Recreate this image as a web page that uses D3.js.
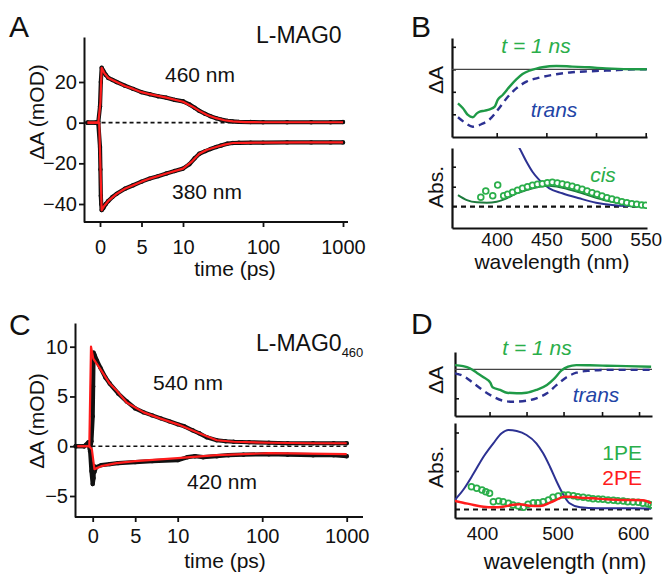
<!DOCTYPE html>
<html>
<head>
<meta charset="utf-8">
<script src="https://cdn.jsdelivr.net/npm/d3@7"></script>
<style>
  body { margin: 0; background: #fff; }
  svg { display: block; font-family: "Liberation Sans", Arial, sans-serif; }
</style>
</head>
<body>
<svg id="fig" width="664" height="574"></svg>
<script>
// ---- panel A: L-MAG0 kinetics (time in ps, dA in mOD)
var aT460 = [-1.5, -0.5, -0.2, 0, 0.1, 0.2, 0.4, 0.7, 1, 1.5, 2, 3, 4, 5, 6, 7, 8, 9, 10, 12, 14, 16, 19, 22, 26, 30, 36, 42, 50, 70, 100, 200, 400, 700, 1000];
var aData460 = [0, 0, 0.5, 8, 20, 27, 25.5, 23.5, 22, 21, 20, 18.2, 16.6, 15, 14, 13, 12.3, 11.2, 10.5, 9, 7.3, 5.8, 4.3, 3.2, 2.2, 1.5, 0.9, 0.6, 0.4, 0.3, 0.2, 0.2, 0.2, 0.2, 0.3];
var aFitT460 = [-1.5, -0.2, 0.05, 0.2, 0.5, 1, 2, 3, 4, 5, 6, 8, 10, 13, 16, 20, 26, 33, 42, 60, 100, 200, 500, 1000];
var aFit460 = [0, 0, 10, 27, 24.5, 22, 20, 18, 16.6, 15, 14, 12.3, 10.3, 8, 5.8, 3.8, 2.2, 1.2, 0.6, 0.3, 0.2, 0.2, 0.2, 0.2];

var aT380 = [-1.5, -0.5, -0.2, 0, 0.05, 0.1, 0.15, 0.2, 0.4, 0.7, 1, 1.5, 2, 3, 4, 5, 6, 7, 8, 9, 10, 12, 14, 16, 19, 22, 26, 30, 36, 42, 50, 70, 100, 200, 400, 700, 1000];
var aData380 = [0, 0, -0.5, -12, -23, -36, -40, -43, -42, -40, -38.5, -36.5, -35, -32.5, -30.8, -29, -27.5, -26.3, -25, -23.8, -22.6, -20.5, -17.5, -15.3, -14, -13, -12, -11.2, -10.3, -10, -9.9, -9.8, -9.8, -9.7, -9.7, -9.7, -9.7];
var aFitT380 = [-1.5, -0.1, 0.2, 0.5, 1, 2, 3, 4, 5, 6, 8, 10, 13, 16, 20, 26, 33, 42, 60, 100, 300, 1000];
var aFit380 = [0, 0, -43, -41, -38.5, -35, -32.5, -30.8, -29, -27.5, -25, -22.6, -19, -15.3, -13.3, -12, -10.8, -10, -9.9, -9.8, -9.7, -9.7];

// ---- panel C: L-MAG0(460) kinetics
var cT540 = [-2, -1, -0.5, -0.3, -0.15, 0, 0.05, 0.1, 0.2, 0.5, 0.9, 1.5, 2, 3, 4, 5, 6, 7, 8, 9, 10, 12, 15, 18, 22, 29, 37, 46, 70, 120, 200, 400, 700, 1000];
var cData540 = [0, 0, 0.4, -0.3, 0.5, 3, 6, 9.4, 9.2, 8.6, 7.9, 6.9, 6.3, 5.3, 4.5, 3.8, 3.4, 3.1, 2.8, 2.5, 2.2, 2.0, 1.6, 1.3, 0.9, 0.6, 0.5, 0.45, 0.4, 0.35, 0.3, 0.3, 0.3, 0.3];
var cFitT540 = [-1.8, -0.4, -0.2, 0.07, 0.86, 2, 2.8, 4, 6, 7.9, 10, 13, 18, 29, 46, 120, 400, 1000];
var cFit540 = [0, 0, 10, 8.8, 7.8, 6.3, 5.6, 4.4, 3.4, 2.8, 2.2, 1.8, 1.3, 0.6, 0.45, 0.35, 0.3, 0.3];

var cT420 = [-2, -1, -0.5, -0.3, -0.15, 0, 0.1, 0.15, 0.2, 0.4, 1, 2, 3, 5, 7, 10, 13, 16, 20, 29, 40, 60, 120, 200, 400, 700, 1000];
var cData420 = [0, 0, 0.3, -0.5, -2.5, -3.8, -3.2, -2.0, -2.6, -2.1, -1.9, -1.8, -1.7, -1.6, -1.5, -1.4, -1.1, -1.0, -1.1, -1.0, -0.9, -0.85, -0.8, -0.85, -0.9, -0.9, -1.0];
var cFitT420 = [-1.8, -0.4, -0.1, 0.2, 1, 2.8, 5, 10, 29, 120, 1000];
var cFit420 = [0, 0, -0.3, -2.3, -2.0, -1.7, -1.5, -1.2, -0.9, -0.7, -0.8];

var timeTicksLin = [0, 5, 10];
var timeTicksLog = [100, 1000];

// ---- panel B: spectra (wavelength nm)
var bWl1ns = [361, 366, 371, 376, 380, 383, 388, 393, 398, 401, 406, 413, 420, 426, 433, 440, 446, 460, 476, 493, 510, 546, 551];
var bDA1ns = [-1.51, -1.73, -2.03, -2.13, -1.96, -1.88, -1.84, -1.78, -1.66, -1.36, -1.14, -0.77, -0.44, -0.21, -0.06, 0.03, 0.09, 0.15, 0.12, 0.09, 0.04, 0, 0];
var bWlTrans = [361, 368, 376, 385, 393, 401, 410, 420, 430, 443, 460, 476, 493, 510, 546, 551];
var bDATrans = [-2.13, -2.37, -2.55, -2.43, -2.22, -1.81, -1.29, -0.84, -0.55, -0.37, -0.22, -0.13, -0.09, -0.06, 0, 0];

var bWlTransAbs = [410, 416, 423, 430, 436, 443, 453, 466, 483, 500, 516, 533, 551];
var bAbsTrans = [4.2, 3.5, 2.92, 2.25, 1.75, 1.33, 0.92, 0.67, 0.42, 0.2, 0.08, 0.03, 0.02];
var bWlCis = [361, 370, 380, 390, 400, 410, 420, 430, 443, 453, 466, 483, 500, 516, 533, 546, 551];
var bAbsCis = [0.58, 0.33, 0.22, 0.2, 0.25, 0.42, 0.67, 0.83, 1.0, 1.05, 0.95, 0.72, 0.45, 0.25, 0.13, 0.05, 0.03];
var bWlCisPts = [384, 389, 396, 401, 407, 411, 416, 421, 426, 431, 436, 441, 446, 451, 456, 461, 466, 471, 476, 481, 486, 491, 496, 501, 506, 511, 516, 521, 526, 531, 536, 541, 546, 550];
var bAbsCisPts = [0.47, 0.78, 0.55, 1.08, 0.55, 0.62, 0.72, 0.82, 0.92, 1.0, 1.07, 1.12, 1.15, 1.2, 1.22, 1.18, 1.13, 1.08, 1.02, 0.95, 0.87, 0.78, 0.7, 0.62, 0.53, 0.45, 0.38, 0.32, 0.25, 0.2, 0.15, 0.12, 0.08, 0.07];
var bWlTicks = [400, 450, 500, 550];

// ---- panel D
var dWl1ns = [364, 375, 384, 393, 402, 411, 414, 424, 433, 446, 459, 472, 486, 496, 505, 514, 525, 543, 565, 591, 624];
var dDA1ns = [0.21, 0.16, 0.05, -0.17, -0.4, -0.67, -0.9, -1.03, -1.17, -1.2, -1.17, -1.03, -0.78, -0.45, -0.07, 0.13, 0.21, 0.2, 0.18, 0.16, 0.13];
var dWlTrans = [364, 375, 389, 402, 415, 428, 441, 459, 472, 486, 499, 512, 525, 543, 565, 591, 624];
var dDATrans = [-0.2, -0.33, -0.7, -1.07, -1.37, -1.57, -1.62, -1.57, -1.45, -1.2, -0.78, -0.4, -0.17, -0.07, -0.03, -0.03, -0.03];

var dWlTransAbs = [364, 375, 389, 402, 415, 426, 435, 446, 459, 472, 481, 490, 499, 508, 516, 530, 552, 574, 600, 624];
var dAbsTrans = [0.95, 1.95, 3.62, 5.28, 6.62, 7.62, 7.95, 7.85, 7.45, 6.62, 5.62, 4.28, 2.78, 1.45, 0.62, 0.22, 0.12, 0.12, 0.12, 0.08];
var dWl2PE = [364, 375, 389, 402, 415, 428, 439, 450, 463, 477, 490, 501, 508, 516, 530, 547, 565, 582, 600, 613, 624];
var dAbs2PE = [0.85, 0.68, 0.45, 0.28, 0.22, 0.28, 0.45, 0.52, 0.38, 0.35, 0.68, 1.05, 1.28, 1.28, 1.18, 1.12, 1.02, 0.95, 0.95, 0.92, 0.62];
var dWl1PE = [386, 393, 400, 405, 410, 415, 422, 428, 435, 441, 448, 455, 461, 468, 474, 481, 488, 494, 501, 508, 514, 521, 527, 534, 541, 547, 554, 560, 567, 574, 580, 587, 593, 600, 607, 613, 620, 624];
var dAbs1PE = [2.28, 2.12, 1.95, 1.78, 1.62, 0.78, 0.85, 0.78, 0.62, 0.45, 0.35, 0.22, 0.52, 0.68, 0.68, 0.78, 0.95, 1.22, 1.35, 1.45, 1.45, 1.38, 1.28, 1.22, 1.15, 1.08, 1.05, 1.02, 0.95, 0.92, 0.88, 0.85, 0.78, 0.75, 0.72, 0.62, 0.55, 0.45];
var dWlTicks = [400, 500, 600];

var colors = {
  red: '#ff1c1c',
  green: '#1f9a47',
  darkGreen: '#1d7a3d',
  lightGreen: '#2aae4a',
  navy: '#2c3192',
  blueText: '#1f45a6'
};

var svg = d3.select('#fig');
svg.append('rect').attr('width', 664).attr('height', 574).attr('fill', '#fff');

function zip(xs, ys) {
  return xs.map(function(x, i) { return [x, ys[i]]; });
}

function addText(x, y, str, size, opts) {
  opts = opts || {};
  var t = svg.append('text')
    .attr('x', x).attr('y', y)
    .attr('font-size', size)
    .attr('fill', opts.fill || '#111')
    .attr('text-anchor', opts.anchor || 'start')
    .text(str);
  if (opts.italic) t.attr('font-style', 'italic');
  if (opts.rotate) {
    t.attr('x', 0).attr('y', 0)
      .attr('transform', 'translate(' + x + ',' + y + ') rotate(-90)');
  }
  return t;
}

// kinetics panel: linear time up to 10 ps, log beyond
function kinetics(o) {
  var g = svg.append('g');
  var xLin = d3.scaleLinear().domain([0, 10]).range([o.x0, o.x10]);
  var xLog = d3.scaleLog().domain([10, 1000]).range([o.x10, o.x1000]);
  var x = function(t) { return t <= 10 ? xLin(t) : xLog(t); };
  var y = d3.scaleLinear().domain(o.yDomain).range(o.yRange);
  var yAxisScale = y.copy().domain([y.invert(o.bottom), y.invert(o.top)]).range([o.bottom, o.top]);

  var yAxis = g.append('g')
    .attr('transform', 'translate(' + o.left + ',0)')
    .call(d3.axisLeft(yAxisScale).tickValues(o.yTicks).tickSize(5).tickSizeOuter(0).tickPadding(2));
  yAxis.selectAll('text').attr('font-size', 20).attr('fill', '#111').attr('font-family', null);

  g.append('line')
    .attr('x1', o.left).attr('x2', o.right)
    .attr('y1', o.bottom).attr('y2', o.bottom);

  [[xLin, timeTicksLin], [xLog, timeTicksLog]].forEach(function(p) {
    var ax = g.append('g')
      .attr('transform', 'translate(0,' + o.bottom + ')')
      .call(d3.axisBottom(p[0]).tickValues(p[1]).tickSize(5).tickPadding(o.xPad).tickFormat(d3.format('d')));
    ax.select('.domain').remove();
    ax.selectAll('text').attr('font-size', 20).attr('fill', '#111').attr('font-family', null);
  });
  g.selectAll('line, path').attr('stroke', '#111').attr('stroke-width', 2);
  g.selectAll('.tick line').attr('stroke-width', 1.8);

  // zero reference
  g.append('line')
    .attr('x1', x(o.dashFrom)).attr('x2', x(1000))
    .attr('y1', y(0)).attr('y2', y(0))
    .attr('stroke', '#111').attr('stroke-width', 1.6)
    .attr('stroke-dasharray', '4,3');

  var line = d3.line().x(function(d) { return x(d[0]); }).y(function(d) { return y(d[1]); });

  o.traces.forEach(function(tr) {
    var pts = zip(tr.t, tr.data);
    g.append('path').datum(pts).attr('d', line)
      .attr('fill', 'none').attr('stroke', '#111').attr('stroke-width', 4.2)
      .attr('stroke-linejoin', 'round').attr('stroke-linecap', 'round');
    g.selectAll(null).data(pts).enter().append('circle')
      .attr('cx', function(d) { return x(d[0]); })
      .attr('cy', function(d) { return y(d[1]); })
      .attr('r', 2.2).attr('fill', '#111');
  });
  o.traces.forEach(function(tr) {
    g.append('path').datum(zip(tr.fitT, tr.fit)).attr('d', line)
      .attr('fill', 'none').attr('stroke', colors.red).attr('stroke-width', 2.2)
      .attr('stroke-linejoin', 'round');
  });
}

kinetics({
  left: 84, right: 348, top: 37, bottom: 222,
  x0: 100, x10: 183, x1000: 343, xPad: 13,
  yDomain: [-40, 20], yRange: [204, 82], yTicks: [-40, -20, 0, 20],
  dashFrom: -1.5,
  traces: [
    { t: aT460, data: aData460, fitT: aFitT460, fit: aFit460 },
    { t: aT380, data: aData380, fitT: aFitT380, fit: aFit380 }
  ]
});

kinetics({
  left: 75, right: 363, top: 323, bottom: 517,
  x0: 92.7, x10: 177.7, x1000: 346.7, xPad: 7,
  yDomain: [-5, 10], yRange: [496, 346.7], yTicks: [-5, 0, 5, 10],
  dashFrom: -1.8,
  traces: [
    { t: cT540, data: cData540, fitT: cFitT540, fit: cFit540 },
    { t: cT420, data: cData420, fitT: cFitT420, fit: cFit420 }
  ]
});

// spectra sub-plot
function spectrum(o) {
  var g = svg.append('g');
  var x = d3.scaleLinear().domain(o.xDomain).range(o.xRange);
  var y = d3.scaleLinear().domain(o.yDomain).range(o.yRange);
  var xAxisScale = x.copy().domain([x.invert(o.left), x.invert(o.right)]).range([o.left, o.right]);
  var yAxisScale = y.copy().domain([y.invert(o.bottom), y.invert(o.top)]).range([o.bottom, o.top]);

  var clipId = 'clip' + o.id;
  svg.append('clipPath').attr('id', clipId).append('rect')
    .attr('x', o.left).attr('y', o.top)
    .attr('width', o.right - o.left).attr('height', o.bottom - o.top);

  g.append('g').attr('transform', 'translate(0,' + o.bottom + ')')
    .call(d3.axisBottom(xAxisScale).tickValues(o.tickTicks).tickSize(o.xTickSize).tickSizeOuter(0).tickFormat(''));
  g.append('g').attr('transform', 'translate(' + o.left + ',0)')
    .call(d3.axisLeft(yAxisScale).tickValues(o.yTicks).tickSize(-4).tickSizeOuter(0).tickFormat(''));
  g.selectAll('line, path').attr('stroke', '#111').attr('stroke-width', 2.2);
  g.selectAll('.tick line').attr('stroke-width', 1.6);

  if (o.labels) {
    var lab = g.append('g').attr('transform', 'translate(0,' + o.bottom + ')')
      .call(d3.axisBottom(x).tickValues(o.labelTicks).tickSize(0).tickPadding(o.labelPad).tickFormat(d3.format('d')));
    lab.select('.domain').remove();
    lab.selectAll('text').attr('font-size', 19).attr('fill', '#111').attr('font-family', null);
  }

  var plot = g.append('g').attr('clip-path', 'url(#' + clipId + ')');
  if (o.zero) {
    plot.append('line')
      .attr('x1', o.left).attr('x2', o.right)
      .attr('y1', y(0)).attr('y2', y(0))
      .attr('stroke', o.zero === 'dash' ? '#111' : '#444')
      .attr('stroke-width', o.zero === 'dash' ? 2.2 : 1.2)
      .attr('stroke-dasharray', o.zero === 'dash' ? '5,4' : null);
  }
  var line = d3.line().curve(d3.curveMonotoneX)
    .x(function(d) { return x(d[0]); }).y(function(d) { return y(d[1]); });
  function drawLine(l) {
    plot.append('path').datum(zip(l.wl, l.v)).attr('d', line)
      .attr('fill', 'none').attr('stroke', l.color).attr('stroke-width', l.width || 2.2)
      .attr('stroke-dasharray', l.dash || null);
  }
  o.lines.filter(function(l) { return !l.top; }).forEach(drawLine);
  (o.points || []).forEach(function(p) {
    plot.selectAll(null).data(zip(p.wl, p.v)).enter().append('circle')
      .attr('cx', function(d) { return x(d[0]); })
      .attr('cy', function(d) { return y(d[1]); })
      .attr('r', 2.9).attr('fill', p.fill || '#fff')
      .attr('stroke', p.color).attr('stroke-width', 1.7);
  });
  o.lines.filter(function(l) { return l.top; }).forEach(drawLine);
}

// B upper
spectrum({
  id: 'bu', left: 452, right: 647, top: 38, bottom: 137,
  xDomain: [400, 550], xRange: [496.7, 645.7],
  yDomain: [-2, 1], yRange: [114.3, 46.8],
  tickTicks: bWlTicks, xTickSize: -4, yTicks: [-2, -1, 0, 1],
  zero: 'solid',
  lines: [
    { wl: bWlTrans, v: bDATrans, color: colors.navy, dash: '7,5', width: 2.4 },
    { wl: bWl1ns, v: bDA1ns, color: colors.green, width: 2.4 }
  ]
});
// B lower
spectrum({
  id: 'bl', left: 452, right: 647, top: 148, bottom: 228,
  xDomain: [400, 550], xRange: [496.7, 645.7],
  yDomain: [0, 2], yRange: [206.7, 166.7],
  tickTicks: [], xTickSize: 0, yTicks: [1, 2],
  labels: true, labelTicks: bWlTicks, labelPad: 5,
  zero: 'dash',
  lines: [
    { wl: bWlTransAbs, v: bAbsTrans, color: colors.navy, width: 2 },
    { wl: bWlCis, v: bAbsCis, color: colors.darkGreen, width: 2 }
  ],
  points: [{ wl: bWlCisPts, v: bAbsCisPts, color: colors.lightGreen }]
});

// D upper
spectrum({
  id: 'du', left: 455, right: 652, top: 352, bottom: 416,
  xDomain: [400, 600], xRange: [482, 633],
  yDomain: [-1, 0], yRange: [389.3, 369.3],
  tickTicks: [410, 459, 508, 559, 608], xTickSize: -4, yTicks: [-1.45, -0.2],
  zero: 'solid',
  lines: [
    { wl: dWlTrans, v: dDATrans, color: colors.navy, dash: '7,5', width: 2.4 },
    { wl: dWl1ns, v: dDA1ns, color: colors.green, width: 2.4 }
  ]
});
// D lower
spectrum({
  id: 'dl', left: 455, right: 652, top: 423, bottom: 518,
  xDomain: [400, 600], xRange: [482, 633],
  yDomain: [0, 1], yRange: [509.5, 499.5],
  tickTicks: [], xTickSize: 0, yTicks: [3.85, 7.7],
  labels: true, labelTicks: dWlTicks, labelPad: 9,
  zero: 'dash',
  lines: [
    { wl: dWlTransAbs, v: dAbsTrans, color: colors.navy, width: 2 },
    { wl: dWl2PE, v: dAbs2PE, color: colors.red, width: 2.4, top: true }
  ],
  points: [{ wl: dWl1PE, v: dAbs1PE, color: colors.lightGreen, fill: 'none' }]
});

// panel letters
addText(9, 37, 'A', 30);
addText(411, 37, 'B', 30);
addText(9, 335, 'C', 30);
addText(411, 334, 'D', 30);

// panel A/C labels
addText(256, 43, 'L-MAG0', 23);
var lm = addText(256, 351, 'L-MAG0', 23);
lm.append('tspan').attr('font-size', 13).attr('dy', 6).text('460');
addText(165, 82, '460 nm', 21);
addText(172, 199, '380 nm', 21);
addText(153, 390, '540 nm', 21);
addText(187, 489, '420 nm', 21);
addText(44, 112, 'ΔA (mOD)', 21, { anchor: 'middle', rotate: true });
addText(44, 421, 'ΔA (mOD)', 21, { anchor: 'middle', rotate: true });
addText(235, 276, 'time (ps)', 21, { anchor: 'middle' });
addText(225, 568, 'time (ps)', 21, { anchor: 'middle' });

// panel B/D labels
addText(536, 53, 't = 1 ns', 21, { anchor: 'middle', italic: true, fill: colors.lightGreen });
addText(554, 117, 'trans', 21, { anchor: 'middle', italic: true, fill: colors.blueText });
addText(603, 182, 'cis', 21, { anchor: 'middle', italic: true, fill: colors.lightGreen });
addText(443, 80, 'ΔA', 21, { anchor: 'middle', rotate: true });
addText(443, 187, 'Abs.', 21, { anchor: 'middle', rotate: true });
addText(552, 269, 'wavelength (nm)', 21, { anchor: 'middle' });

addText(537, 355, 't = 1 ns', 21, { anchor: 'middle', italic: true, fill: colors.lightGreen });
addText(596, 402, 'trans', 21, { anchor: 'middle', italic: true, fill: colors.blueText });
addText(443, 380, 'ΔA', 21, { anchor: 'middle', rotate: true });
addText(443, 467, 'Abs.', 21, { anchor: 'middle', rotate: true });
addText(642, 460, '1PE', 21, { anchor: 'end', fill: colors.lightGreen });
addText(642, 485, '2PE', 21, { anchor: 'end', fill: colors.red });
addText(565, 569, 'wavelength (nm)', 22, { anchor: 'middle' });
</script>
</body>
</html>
